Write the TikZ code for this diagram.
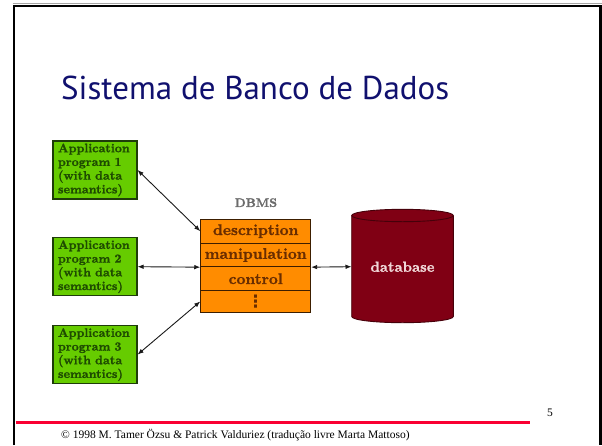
\documentclass[tikz,border=0pt]{standalone}
\usepackage{fontspec}
\newfontfamily\titlefont{PT Sans}
\newfontfamily\footfont{Liberation Serif}
\newfontfamily\symfont{DejaVu Sans}
\newfontfamily\diagfont{lmroman10-bold.otf}[FakeBold=1.3]
\usetikzlibrary{arrows.meta}
\definecolor{titleblue}{RGB}{16,16,110}
\definecolor{appgreen}{RGB}{102,204,0}
\definecolor{appedge}{RGB}{30,60,10}
\definecolor{apptext}{RGB}{30,75,0}
\definecolor{dbmsorange}{RGB}{255,140,0}
\definecolor{dbmsedge}{RGB}{60,30,0}
\definecolor{dbmstext}{RGB}{105,45,0}
\definecolor{dbred}{RGB}{128,0,20}
\definecolor{dbedge}{RGB}{70,0,10}
\definecolor{dbtext}{RGB}{240,215,215}
\definecolor{rulered}{RGB}{250,0,50}
\begin{document}
\begin{tikzpicture}[x=1pt,y=-1pt,
  appbox/.style={draw=appedge, line width=1.1pt, fill=appgreen, minimum width=84pt,
    minimum height=58pt, inner sep=0pt, text width=74pt, align=left, text=apptext,
    font=\diagfont\fontsize{12.3}{13.7}\selectfont},
  dbmsrow/.style={draw=dbmsedge, line width=0.9pt, fill=dbmsorange, minimum width=110pt,
    inner sep=0pt, text=dbmstext, font=\diagfont\fontsize{15.4}{16}\selectfont},
  conn/.style={<->, >={Latex[length=6pt,width=4.6pt]}, line width=0.9pt, draw=black!90},
  lbl/.style={inner sep=0pt}]
\useasboundingbox (0,0) rectangle (602,445);
% slide frame
\draw[black!35, line width=1pt] (12.5,3.9) -- (602,3.9);
\draw[line width=2.8pt] (13.9,445) -- (13.9,6) -- (600.7,6) -- (600.7,445);
% title
\node[lbl, anchor=base west, text=titleblue, font=\titlefont\fontsize{33}{38}\selectfont]
  (title) at (61,99) {Sistema de Banco de Dados};
% application programs
\node[appbox] (app1) at (95,170) {Application\\program 1\\(with data\\semantics)};
\node[appbox] (app2) at (95,266.7) {Application\\program 2\\(with data\\semantics)};
\node[appbox] (app3) at (95,354.6) {Application\\program 3\\(with data\\semantics)};
% DBMS
\node[lbl, text=black!58, font=\diagfont\fontsize{12.3}{14}\selectfont] (dbmslabel) at (256,202.7) {DBMS};
\node[dbmsrow, minimum height=24.3pt] (desc) at (255.7,231.15) {description};
\node[dbmsrow, minimum height=23.4pt] (manip) at (255.7,255) {manipulation};
\node[dbmsrow, minimum height=24pt] (ctrl) at (255.7,278.7) {control};
\node[dbmsrow, minimum height=21.6pt, font=\symfont\bfseries\fontsize{17}{18}\selectfont] (dots) at (255.7,301.5) {⋮};
% database cylinder
\fill[dbred] (351.7,215.5) -- (351.7,316.5)
  arc[start angle=180, end angle=0, x radius=50.8, y radius=6.2] -- (453.3,215.5)
  arc[start angle=0, end angle=-180, x radius=50.8, y radius=6.2] -- cycle;
\draw[dbedge, line width=0.9pt] (351.7,215.5) -- (351.7,316.5)
  arc[start angle=180, end angle=0, x radius=50.8, y radius=6.2] -- (453.3,215.5);
\draw[dbedge, line width=0.9pt] (402.5,215.5) ellipse[x radius=50.8, y radius=6.2];
\node[inner sep=0pt, minimum width=101.6pt, minimum height=100pt, text=dbtext,
  font=\diagfont\fontsize{14.6}{16}\selectfont] (db) at (402.5,266.7) {database};
% connectors
\draw[conn] (app1.east) -- (desc.west);
\draw[conn] (app2.east) -- (manip.south west);
\draw[conn] (app3.east) -- (dots.west);
\draw[conn] (manip.south east) -- (db.west);
% footer
\draw[rulered, line width=2.5pt] (15.5,422.3) -- (530,422.3);
\node[lbl, anchor=base, font=\footfont\fontsize{11.5}{13}\selectfont] (page) at (550,416) {5};
\node[lbl, anchor=base west, font=\footfont\fontsize{11.5}{13}\selectfont] (foot) at (61,438)
  {© 1998 M. Tamer Özsu \& Patrick Valduriez (tradução livre Marta Mattoso)};
\end{tikzpicture}
\end{document}
